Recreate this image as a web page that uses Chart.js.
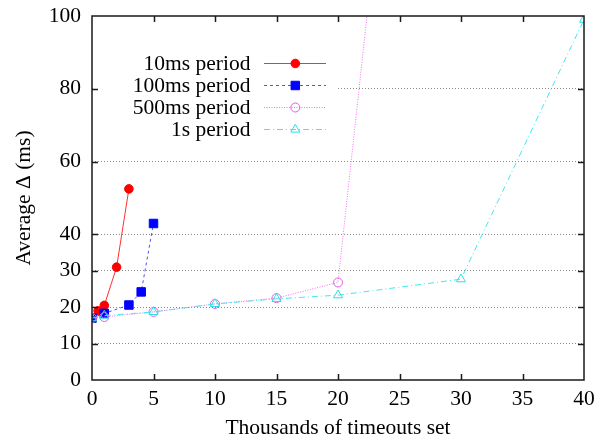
<!DOCTYPE html>
<html><head><meta charset="utf-8">
<script src="https://cdn.jsdelivr.net/npm/chart.js@4"></script>
<style>html,body{margin:0;padding:0;background:#fff}canvas{display:block}</style>
</head><body>
<canvas id="c" width="610" height="441"></canvas>
<script>
// ---- data ----
const xTicks = [0,5,10,15,20,25,30,35,40];
const yTicks = [0,10,20,30,40,60,80,100];
const gridValues = [10,20,30,40,60,80];
const seriesNames = ['10ms period','100ms period','500ms period','1s period'];
const x10 = [0,0.5,1,2,3];
const y10 = [17,19,20.5,31,52.5];
const x100 = [0,1,3,4,5];
const y100 = [17,18.3,20.6,24.2,43];
const x500 = [0,1,5,10,15,20,25];
const y500 = [17,17.3,18.7,20.9,22.5,26.8,182];
const x1s = [0,1,5,10,15,20,30,40];
const y1s = [17,17.7,18.7,20.9,22.3,23.3,27.7,99];
const xTitle = 'Thousands of timeouts set';
const yTitle = 'Average \u0394 (ms)';

const FONT = '"Liberation Serif", "Times New Roman", serif';
const pts = (xs, ys) => xs.map((x, i) => ({x, y: ys[i]}));

const styles = [
  {line:'#ff3030', pt:'#ff0000', fill:'#ff0000', dash:[], style:'circle', r:4.3, order:4},
  {line:'#5050ff', pt:'#0000ff', fill:'#0000ff', dash:[3,3], style:'rect', r:6, order:3},
  {line:'#f070f0', pt:'#e060e0', fill:'rgba(0,0,0,0)', dash:[1,1.5], style:'circle', r:4.5, order:2},
  {line:'#40e8f0', pt:'#30dde8', fill:'rgba(0,0,0,0)', dash:[6,3,1,3], style:'triangle', r:5.2, order:1}
];
const seriesData = [pts(x10,y10), pts(x100,y100), pts(x500,y500), pts(x1s,y1s)];

const datasets = seriesData.map((d, i) => ({
  label: seriesNames[i],
  data: d,
  borderColor: styles[i].line,
  backgroundColor: styles[i].fill,
  borderWidth: 1,
  borderDash: styles[i].dash,
  pointStyle: styles[i].style,
  pointRadius: styles[i].r,
  pointBorderWidth: 1,
  pointBorderColor: styles[i].pt,
  pointBackgroundColor: styles[i].fill,
  tension: 0,
  order: styles[i].order
}));

function drawMarker(ctx, st, x, y) {
  ctx.save();
  ctx.setLineDash([]);
  ctx.lineWidth = 1;
  ctx.strokeStyle = st.pt;
  ctx.fillStyle = st.fill;
  ctx.beginPath();
  if (st.style === 'circle') {
    ctx.arc(x, y, st.r, 0, Math.PI * 2);
  } else if (st.style === 'rect') {
    const s = Math.SQRT1_2 * st.r;
    ctx.rect(x - s, y - s, 2 * s, 2 * s);
  } else {
    let rad = 0;
    for (let k = 0; k < 3; k++) {
      const px = x + Math.sin(rad) * st.r, py = y - Math.cos(rad) * st.r;
      k === 0 ? ctx.moveTo(px, py) : ctx.lineTo(px, py);
      rad += 2 * Math.PI / 3;
    }
    ctx.closePath();
  }
  ctx.fill();
  ctx.stroke();
  ctx.restore();
}

const legendPlugin = {
  id: 'inlegend',
  afterDatasetsDraw(chart) {
    const ctx = chart.ctx, a = chart.chartArea;
    ctx.save();
    ctx.fillStyle = '#fff';
    ctx.fillRect(a.left + 1, 50, 337 - a.left, 92);
    ctx.font = '21.5px ' + FONT;
    ctx.textAlign = 'right';
    ctx.textBaseline = 'middle';
    chart.data.datasets.forEach((ds, i) => {
      const y = 63.3 + i * 21.9;
      ctx.fillStyle = '#000';
      ctx.fillText(ds.label, 250.5, y + 1);
      ctx.strokeStyle = styles[i].line;
      ctx.lineWidth = 1;
      ctx.setLineDash(styles[i].dash);
      ctx.beginPath();
      ctx.moveTo(264, Math.round(y) + 0.5);
      ctx.lineTo(326, Math.round(y) + 0.5);
      ctx.stroke();
      drawMarker(ctx, styles[i], 295.3, Math.round(y) + 0.5);
    });
    ctx.restore();
  },
  afterDraw(chart) {
    const ctx = chart.ctx, a = chart.chartArea;
    const xs = chart.scales.x, ys = chart.scales.y;
    ctx.save();
    ctx.strokeStyle = '#1a1a1a';
    ctx.lineWidth = 1.5;
    ctx.setLineDash([]);
    ctx.strokeRect(a.left, a.top, a.right - a.left, a.bottom - a.top);
    ctx.beginPath();
    xTicks.slice(1, -1).forEach(v => {
      const px = Math.round(xs.getPixelForValue(v)) + 0.5;
      ctx.moveTo(px, a.bottom); ctx.lineTo(px, a.bottom - 6);
      ctx.moveTo(px, a.top); ctx.lineTo(px, a.top + 6);
    });
    yTicks.slice(1, -1).forEach(v => {
      const py = Math.round(ys.getPixelForValue(v)) + 0.5;
      ctx.moveTo(a.left, py); ctx.lineTo(a.left + 6, py);
      ctx.moveTo(a.right, py); ctx.lineTo(a.right - 6, py);
    });
    ctx.stroke();
    ctx.restore();
  }
};

new Chart(document.getElementById('c'), {
  type: 'line',
  data: { datasets },
  options: {
    responsive: false,
    animation: false,
    devicePixelRatio: 1,
    events: [],
    layout: { padding: { top: 16, right: 26, left: 0, bottom: 0 } },
    plugins: { legend: { display: false }, tooltip: { enabled: false } },
    scales: {
      x: {
        type: 'linear', min: 0, max: 40,
        afterBuildTicks: s => { s.ticks = xTicks.map(v => ({value: v})); },
        afterFit: s => { s.height = 61; s.paddingLeft = 0; s.paddingRight = 0; },
        grid: { display: false, drawTicks: false },
        border: { display: false },
        ticks: { font: { family: FONT, size: 21.5 }, color: '#000', padding: 6, maxRotation: 0, autoSkip: false },
        title: { display: true, text: xTitle, font: { family: FONT, size: 21.5 }, color: '#000', padding: { top: 0, bottom: 0 } }
      },
      y: {
        type: 'linear', min: 0, max: 100,
        afterBuildTicks: s => { s.ticks = yTicks.map(v => ({value: v})); },
        afterFit: s => { s.width = 92; s.paddingTop = 0; s.paddingBottom = 0; },
        grid: {
          drawTicks: false,
          lineWidth: 1,
          color: c => (c.tick && gridValues.includes(c.tick.value)) ? '#8a8a8a' : 'rgba(0,0,0,0)'
        },
        border: { display: false, dash: [1, 2] },
        ticks: { font: { family: FONT, size: 21.5 }, color: '#000', padding: 11, autoSkip: false },
        title: { display: true, text: yTitle, font: { family: FONT, size: 21.5 }, color: '#000', padding: { top: 11, bottom: 0 } }
      }
    }
  },
  plugins: [legendPlugin]
});
</script>
</body></html>
